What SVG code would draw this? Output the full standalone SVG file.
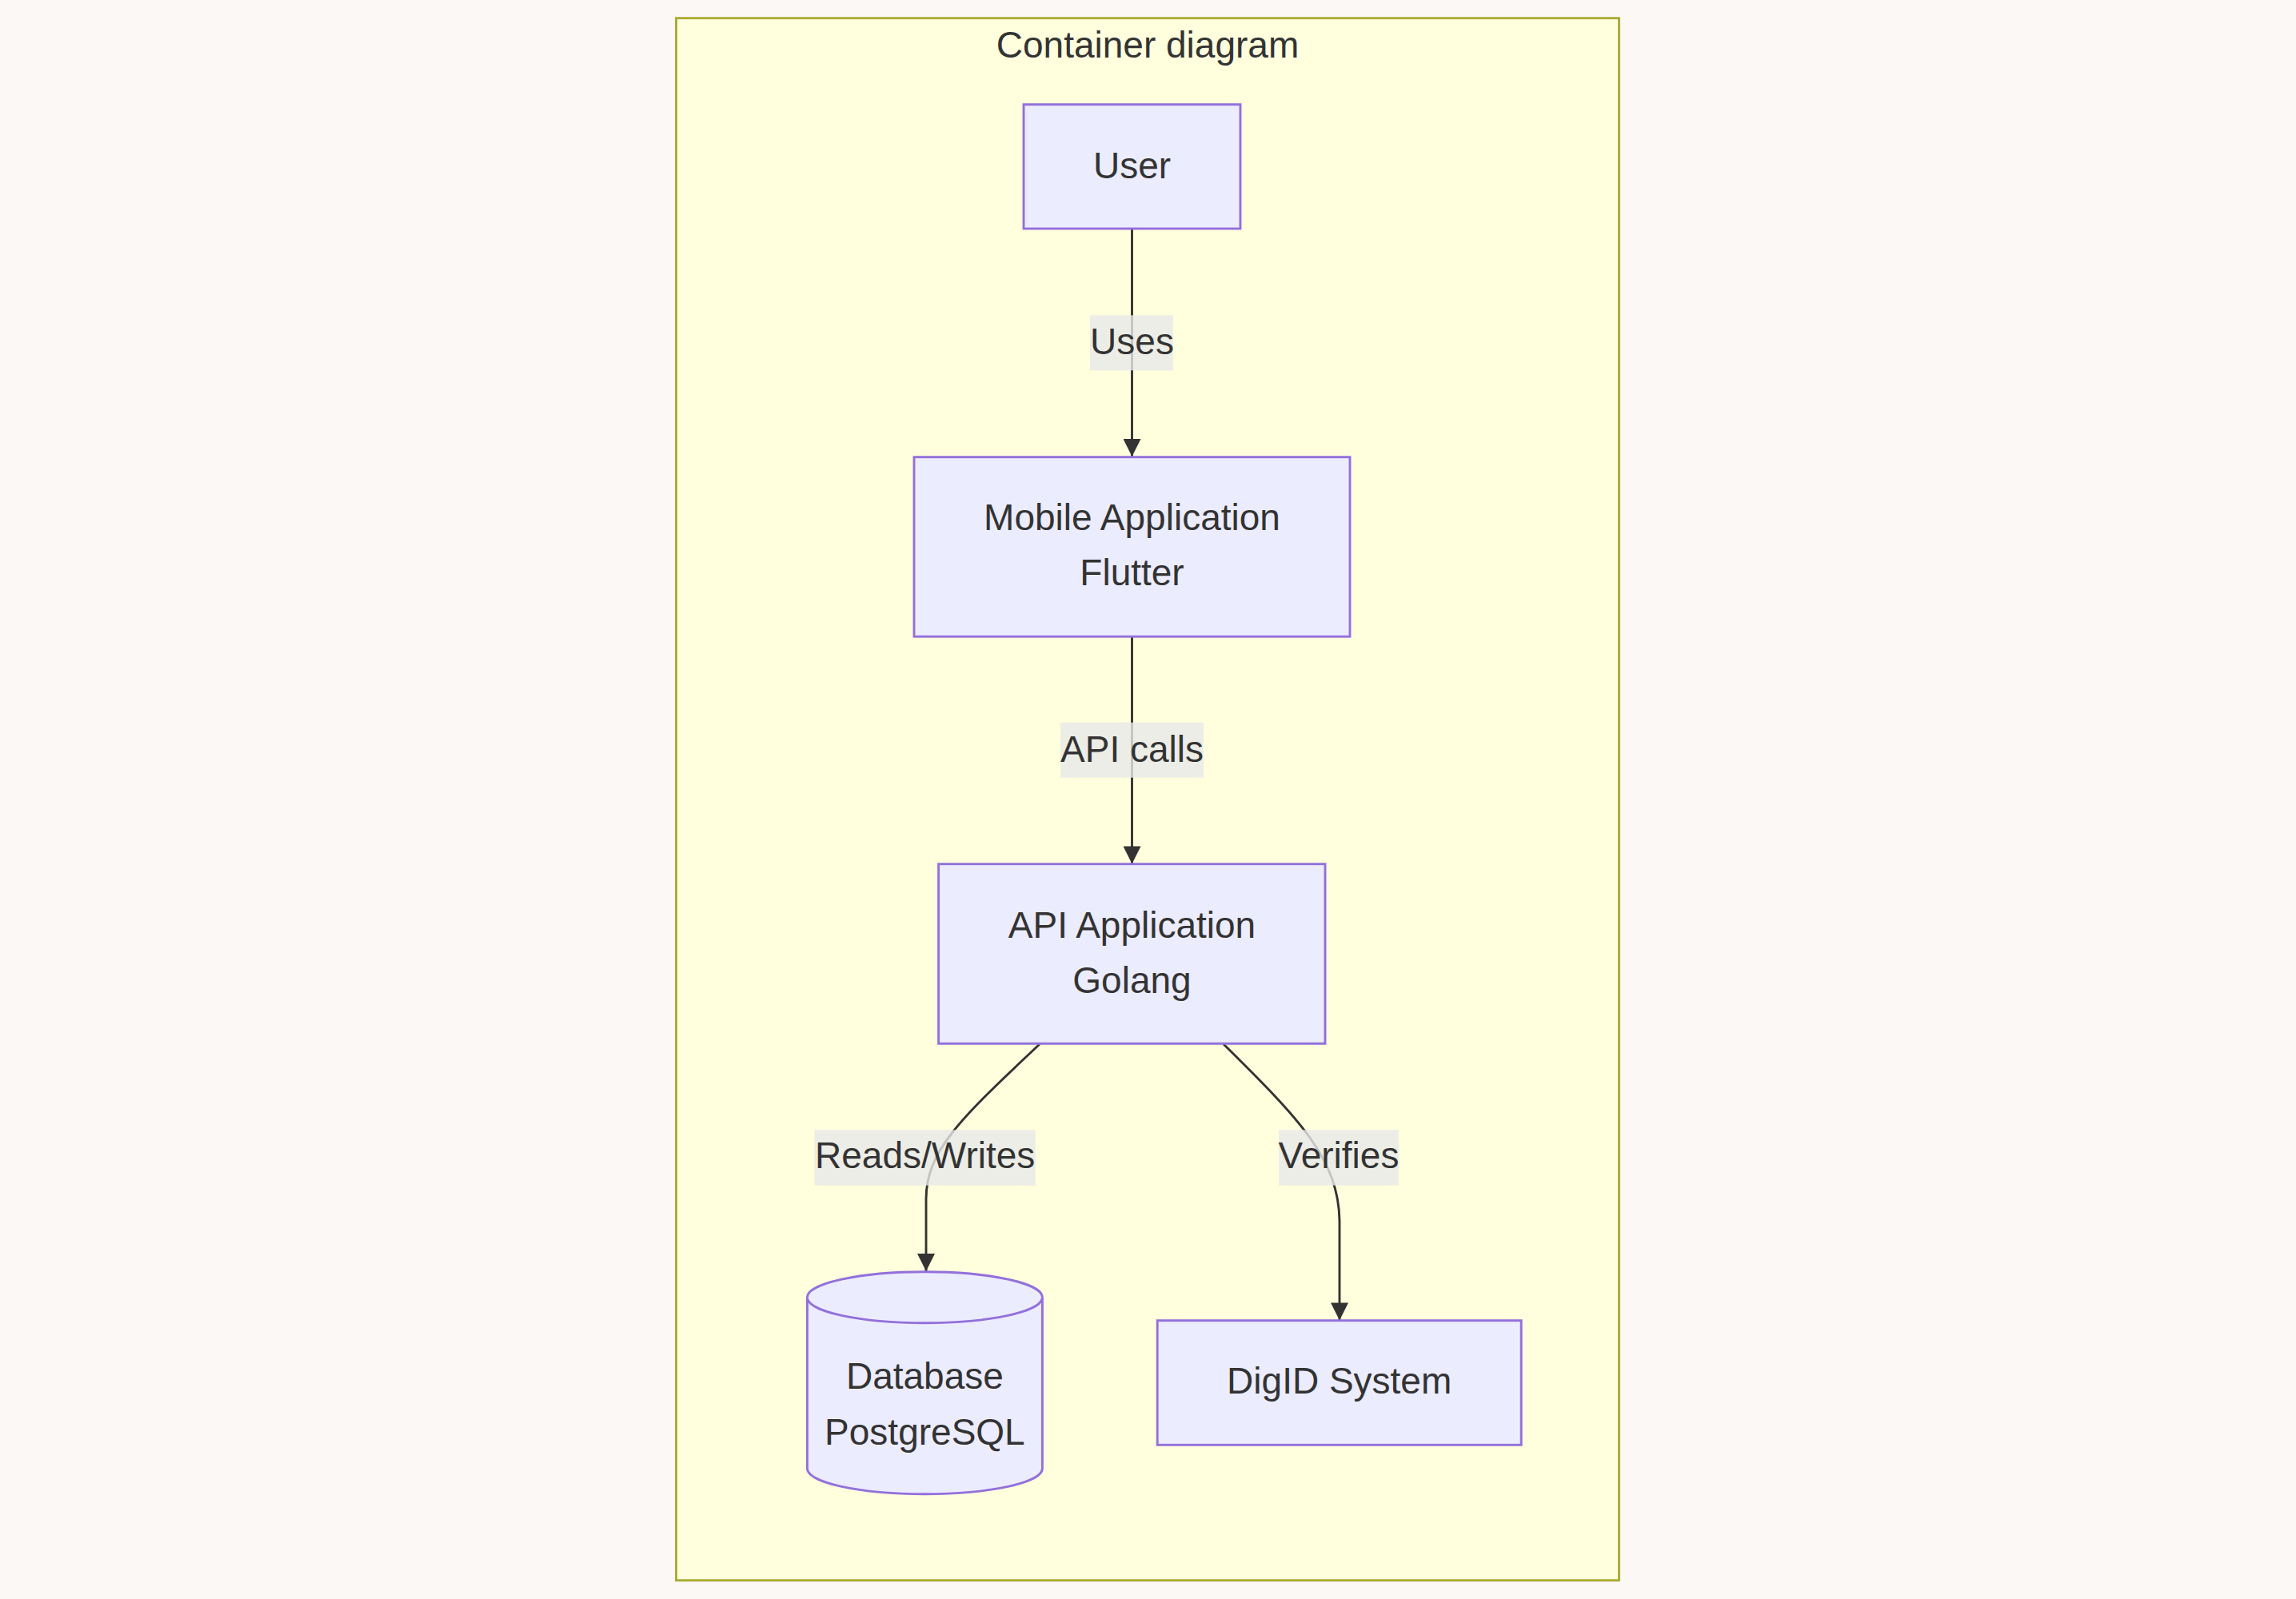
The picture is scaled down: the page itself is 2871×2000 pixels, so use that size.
<svg xmlns="http://www.w3.org/2000/svg" width="2871" height="2000" viewBox="0 0 2871 2000">
<defs>
<style>
.bg{fill:#fcf8f5}
.cluster{fill:#ffffde;stroke:#aaaa33;stroke-width:2.9}
.node{fill:#ececff;stroke:#9370db;stroke-width:2.9}
.t{font-family:"Liberation Sans",Arial,sans-serif;font-size:46px;fill:#333333;text-anchor:middle}
.edge{fill:none;stroke:#333333;stroke-width:2.9}
.lbl{fill:#e8e8e8;fill-opacity:0.8}
</style>
<marker id="arrow" viewBox="0 0 10 10" refX="10" refY="5" markerWidth="23" markerHeight="22" markerUnits="userSpaceOnUse" orient="auto">
<path d="M0,0 L10,5 L0,10 z" fill="#333333"/>
</marker>
</defs>
<rect class="bg" x="0" y="0" width="2871" height="2000"/>
<g id="cluster-container">
<rect class="cluster" x="845.5" y="22.7" width="1179" height="1954"/>
<text class="t" x="1435" y="72">Container diagram</text>
</g>
<g id="connectors">
<path class="edge" d="M1415.5,286 L1415.5,571" marker-end="url(#arrow)"/>
<path class="edge" d="M1415.5,796 L1415.5,1080.5" marker-end="url(#arrow)"/>
<path class="edge" d="M1300,1306 C1200,1400 1158,1440 1158,1500 L1158,1590" marker-end="url(#arrow)"/>
<path class="edge" d="M1530,1306 C1625,1400 1675,1450 1675,1530 L1675,1651.5" marker-end="url(#arrow)"/>
<g id="label-uses">
<rect class="lbl" x="1363" y="394.3" width="104" height="69"/>
<text class="t" x="1415.5" y="442.5">Uses</text>
</g>
<g id="label-apicalls">
<rect class="lbl" x="1326" y="903.7" width="179" height="69"/>
<text class="t" x="1415.5" y="952.5">API calls</text>
</g>
<g id="label-readswrites">
<rect class="lbl" x="1018.6" y="1413.3" width="276.2" height="69.4"/>
<text class="t" x="1156.7" y="1461">Reads/Writes</text>
</g>
<g id="label-verifies">
<rect class="lbl" x="1599" y="1413.3" width="150" height="69.4"/>
<text class="t" x="1674" y="1461">Verifies</text>
</g>
</g>
<g id="node-user">
<rect class="node" x="1280" y="130.7" width="271" height="155.3"/>
<text class="t" x="1415.5" y="223.3">User</text>
</g>
<g id="node-mobile">
<rect class="node" x="1143" y="571.7" width="545" height="224.5"/>
<text class="t" x="1415.5" y="663.3">Mobile Application</text>
<text class="t" x="1415.5" y="732.2">Flutter</text>
</g>
<g id="node-api">
<rect class="node" x="1173.6" y="1080.7" width="483.4" height="224.6"/>
<text class="t" x="1415.5" y="1173.3">API Application</text>
<text class="t" x="1415.5" y="1241.7">Golang</text>
</g>
<g id="node-database">
<path class="node" d="M1009.4,1622.7 A147,32 0 0 1 1303.4,1622.7 L1303.4,1836.7 A147,32 0 0 1 1009.4,1836.7 Z"/>
<path class="node" fill="none" d="M1009.4,1622.7 A147,32 0 0 0 1303.4,1622.7"/>
<text class="t" x="1156.4" y="1736.7">Database</text>
<text class="t" x="1156.4" y="1807.3">PostgreSQL</text>
</g>
<g id="node-digid">
<rect class="node" x="1447.2" y="1651.7" width="455" height="155.6"/>
<text class="t" x="1674.7" y="1743.3">DigID System</text>
</g>
</svg>
